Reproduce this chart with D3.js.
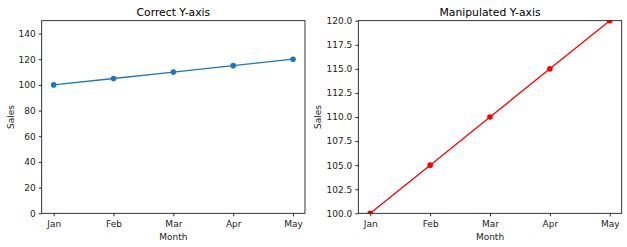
<!DOCTYPE html>
<html>
<head>
<meta charset="utf-8">
<script src="https://cdn.jsdelivr.net/npm/d3@7"></script>
<style>
  body { margin: 0; background: #fff; }
  svg { display: block; font-family: "DejaVu Sans", sans-serif; }
</style>
</head>
<body>
<svg id="chart" width="627" height="247"></svg>
<script>
// data
var months = ["Jan", "Feb", "Mar", "Apr", "May"];
var sales = [100, 105, 110, 115, 120];
var leftTicks = [0, 20, 40, 60, 80, 100, 120, 140];
var rightTicks = [100, 102.5, 105, 107.5, 110, 112.5, 115, 117.5, 120];

var svg = d3.select("#chart");

function drawPanel(opt) {
  var g = svg.append("g");
  var x = d3.scaleLinear().domain([-0.2, 4.2]).range([opt.left, opt.right]);
  var y = d3.scaleLinear().domain(opt.yDomain).range([opt.bottom, opt.top]);

  // clip for the line and markers
  g.append("clipPath").attr("id", opt.id)
    .append("rect")
    .attr("x", opt.left).attr("y", opt.top)
    .attr("width", opt.right - opt.left).attr("height", opt.bottom - opt.top);

  var xAxis = d3.axisBottom(x)
    .tickValues(d3.range(months.length))
    .tickFormat(function (d) { return months[d]; })
    .tickSizeInner(3).tickSizeOuter(0).tickPadding(3);
  var yAxis = d3.axisLeft(y)
    .tickValues(opt.ticks)
    .tickFormat(opt.fmt)
    .tickSizeInner(3).tickSizeOuter(0).tickPadding(3);

  var gx = g.append("g").attr("transform", "translate(0," + opt.bottom + ")").call(xAxis);
  var gy = g.append("g").attr("transform", "translate(" + opt.left + ",0)").call(yAxis);
  [gx, gy].forEach(function (a) {
    a.select(".domain").remove();
    a.selectAll("line").attr("stroke", "#000").attr("stroke-width", 0.8);
    a.selectAll("text").attr("fill", "#222").style("font-size", "9px")
      .style("font-family", "DejaVu Sans, sans-serif");
  });
  gx.selectAll("text").attr("dy", "0.85em");

  var line = d3.line()
    .x(function (d, i) { return x(i); })
    .y(function (d) { return y(d); });

  var plot = g.append("g").attr("clip-path", "url(#" + opt.id + ")");
  plot.append("path")
    .datum(sales)
    .attr("d", line)
    .attr("fill", "none")
    .attr("stroke", opt.color)
    .attr("stroke-width", 1.3);
  plot.selectAll("circle")
    .data(sales)
    .enter().append("circle")
    .attr("cx", function (d, i) { return x(i); })
    .attr("cy", function (d) { return y(d); })
    .attr("r", 2.8)
    .attr("fill", opt.color);

  // frame
  g.append("rect")
    .attr("x", opt.left).attr("y", opt.top)
    .attr("width", opt.right - opt.left).attr("height", opt.bottom - opt.top)
    .attr("fill", "none").attr("stroke", "#000").attr("stroke-width", 0.8);

  g.append("text")
    .attr("x", (opt.left + opt.right) / 2).attr("y", 15.5)
    .attr("text-anchor", "middle")
    .style("font-size", "10.8px")
    .text(opt.title);

  g.append("text")
    .attr("x", (opt.left + opt.right) / 2).attr("y", 239.5)
    .attr("text-anchor", "middle")
    .attr("fill", "#222")
    .style("font-size", "9px")
    .text("Month");

  g.append("text")
    .attr("transform", "translate(" + opt.ylabX + "," + ((opt.top + opt.bottom) / 2) + ") rotate(-90)")
    .attr("text-anchor", "middle")
    .attr("fill", "#222")
    .style("font-size", "9px")
    .text("Sales");
}

drawPanel({
  id: "clipL", left: 41.7, right: 305, top: 20.7, bottom: 213.3,
  yDomain: [0, 150], ticks: leftTicks, fmt: d3.format("d"),
  color: "#1f77b4", title: "Correct Y-axis", ylabX: 14
});
drawPanel({
  id: "clipR", left: 358.3, right: 621.7, top: 20.7, bottom: 213.3,
  yDomain: [100, 120], ticks: rightTicks, fmt: d3.format(".1f"),
  color: "#ff0000", title: "Manipulated Y-axis", ylabX: 321
});
</script>
</body>
</html>
